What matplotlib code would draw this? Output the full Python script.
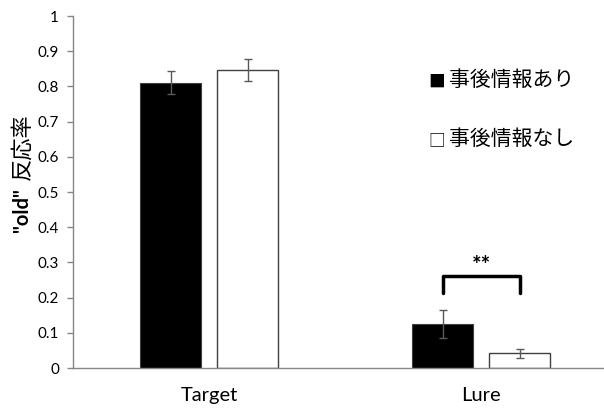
import matplotlib.pyplot as plt
import numpy as np

plt.rcParams['font.family'] = ['Lato', 'Noto Sans CJK JP', 'DejaVu Sans']

categories = ["Target", "Lure"]
with_info = [0.810, 0.125]
with_info_err = [0.033, 0.041]
without_info = [0.847, 0.042]
without_info_err = [0.031, 0.013]
legend_labels = ["事後情報あり", "事後情報なし"]
yticks = [0, 0.1, 0.2, 0.3, 0.4, 0.5, 0.6, 0.7, 0.8, 0.9, 1]

fig = plt.figure(figsize=(6.04, 4.08), dpi=100)
W, H = 604, 408
ax = fig.add_axes([73 / W, 1 - 368 / H, (604 - 73) / W, (368 - 16) / H])

x = np.arange(len(categories))
bw = 0.224
off = 0.1415
ekw = dict(ecolor='#595959', elinewidth=1, capsize=3, capthick=1)
ax.bar(x - off, with_info, bw, color='black', edgecolor='#404040', linewidth=0.8,
       yerr=with_info_err, error_kw=ekw, zorder=2)
ax.bar(x + off, without_info, bw, color='white', edgecolor='#404040', linewidth=1.0,
       yerr=without_info_err, error_kw=ekw, zorder=2)

ax.set_xlim(-0.5, 1.452)
ax.set_ylim(0, 1)
ax.set_yticks(yticks)
ax.set_yticklabels([f"{t:g}" for t in yticks], fontsize=11)
ax.set_xticks(x)
ax.set_xticklabels(categories, fontsize=14.5)
ax.tick_params(axis='x', length=0, pad=14)
ax.tick_params(axis='y', length=4, color='#868686', width=1, pad=6)
for s in ['top', 'right']:
    ax.spines[s].set_visible(False)
for s in ['left', 'bottom']:
    ax.spines[s].set_color('#868686')
    ax.spines[s].set_linewidth(1)

# significance bracket
x1, x2 = x[1] - off, x[1] + off
ax.plot([x1, x1, x2, x2], [0.212, 0.262, 0.262, 0.212], color='black', lw=2.5,
        solid_joinstyle='round', solid_capstyle='round', zorder=3)
ax.text((x1 + x2) / 2, 0.292, "**", ha='center', va='center', fontsize=16, fontweight='bold')

# legend as text with square markers
fig.text(428 / W, 1 - 82 / H, "■", fontsize=12, va='center', ha='left',
         family=['Noto Sans CJK JP', 'DejaVu Sans'])
fig.text(449 / W, 1 - 80 / H, legend_labels[0], fontsize=15, va='center', ha='left',
         family=['Noto Sans CJK JP'])
fig.text(428 / W, 1 - 141 / H, "□", fontsize=12, va='center', ha='left',
         family=['Noto Sans CJK JP', 'DejaVu Sans'])
fig.text(449 / W, 1 - 139 / H, legend_labels[1], fontsize=15, va='center', ha='left',
         family=['Noto Sans CJK JP'])

# y label: "old" in bold, kanji regular
fig.text(22 / W, 1 - 210 / H, '"old"', rotation=90, va='center', ha='center',
         fontsize=14.5, fontweight='bold')
fig.text(22 / W, 1 - 147 / H, '反応率', rotation=90, va='center', ha='center',
         fontsize=16, family=['Noto Sans CJK JP'])

fig.savefig("out.png", dpi=100)
